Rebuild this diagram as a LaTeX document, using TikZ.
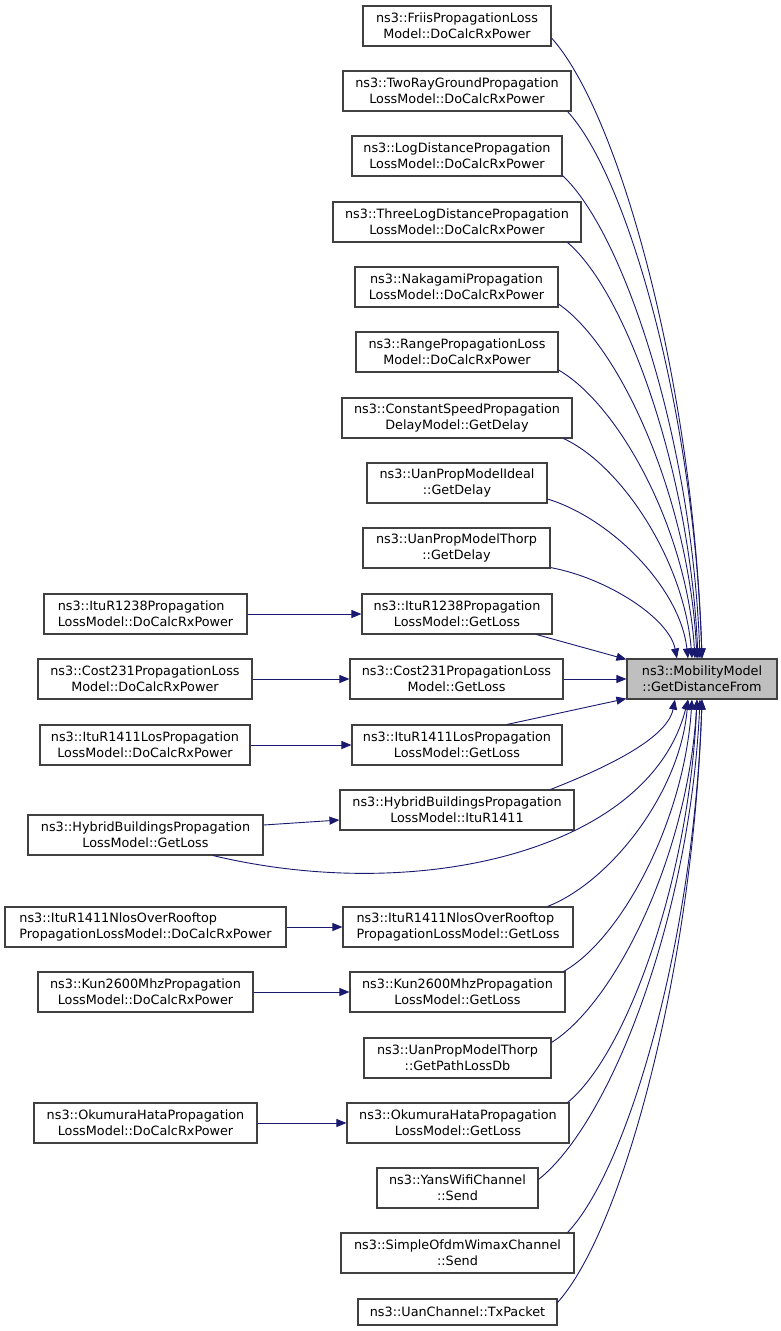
\documentclass[tikz,border=0pt]{standalone}
\usepackage{fontspec}
\setmainfont{DejaVu Sans}
\usetikzlibrary{arrows.meta}
\definecolor{edgecol}{HTML}{191970}
\definecolor{boxborder}{HTML}{404040}
\definecolor{targetfill}{HTML}{BFBFBF}
\begin{document}
\begin{tikzpicture}[x=1pt,y=1pt,
  box/.style={draw=boxborder, line width=1.1pt, fill=white, align=center, inner sep=0pt,
    minimum height=40pt, font=\fontsize{12.8}{16}\selectfont},
  lbox/.style={box, align=left},
  sbox/.style={box, minimum height=26pt},
  tbox/.style={box, fill=targetfill},
  edge/.style={draw=edgecol, line width=0.9pt, -{Triangle[length=10pt,width=8pt]}}]
\useasboundingbox (0,0) rectangle (781,-1331);
% target
\node[tbox, minimum width=150pt] (target) at (702,-679) {ns3::MobilityModel\\::GetDistanceFrom};
% middle column
\node[box, minimum width=188pt] (friis) at (457,-26) {ns3::FriisPropagationLoss\\Model::DoCalcRxPower};
\node[box, minimum width=228pt] (tworay) at (457,-91) {ns3::TwoRayGroundPropagation\\LossModel::DoCalcRxPower};
\node[box, minimum width=210pt] (logd) at (457,-156) {ns3::LogDistancePropagation\\LossModel::DoCalcRxPower};
\node[box, minimum width=248pt] (three) at (457,-222) {ns3::ThreeLogDistancePropagation\\LossModel::DoCalcRxPower};
\node[box, minimum width=203pt] (naka) at (456.5,-287) {ns3::NakagamiPropagation\\LossModel::DoCalcRxPower};
\node[box, minimum width=202pt] (range) at (457,-352) {ns3::RangePropagationLoss\\Model::DoCalcRxPower};
\node[box, minimum width=230pt] (const) at (457,-418) {ns3::ConstantSpeedPropagation\\DelayModel::GetDelay};
\node[box, minimum width=180pt] (uanideal) at (457,-483) {ns3::UanPropModelIdeal\\::GetDelay};
\node[box, minimum width=187pt] (uanthorp) at (456.5,-548) {ns3::UanPropModelThorp\\::GetDelay};
\node[box, minimum width=190pt] (ituGL) at (457,-614) {ns3::ItuR1238Propagation\\LossModel::GetLoss};
\node[box, minimum width=213pt] (costGL) at (456.5,-679) {ns3::Cost231PropagationLoss\\Model::GetLoss};
\node[box, minimum width=210pt] (losGL) at (457,-745) {ns3::ItuR1411LosPropagation\\LossModel::GetLoss};
\node[box, minimum width=234pt] (hybI) at (457,-810) {ns3::HybridBuildingsPropagation\\LossModel::ItuR1411};
\node[lbox, minimum width=230pt] (nlosGL) at (458,-927) {ns3::ItuR1411NlosOverRooftop\\PropagationLossModel::GetLoss};
\node[box, minimum width=215pt] (kunGL) at (457.5,-992) {ns3::Kun2600MhzPropagation\\LossModel::GetLoss};
\node[box, minimum width=187pt] (thorpPL) at (457.5,-1058) {ns3::UanPropModelThorp\\::GetPathLossDb};
\node[box, minimum width=222pt] (okuGL) at (458,-1123) {ns3::OkumuraHataPropagation\\LossModel::GetLoss};
\node[box, minimum width=161pt] (yans) at (457.5,-1188) {ns3::YansWifiChannel\\::Send};
\node[box, minimum width=233pt] (simple) at (457.5,-1253) {ns3::SimpleOfdmWimaxChannel\\::Send};
\node[sbox, minimum width=199pt] (uanch) at (457.5,-1312) {ns3::UanChannel::TxPacket};
% left column
\node[lbox, minimum width=203pt] (ituDC) at (145.5,-614) {ns3::ItuR1238Propagation\\LossModel::DoCalcRxPower};
\node[box, minimum width=214pt] (costDC) at (145,-679) {ns3::Cost231PropagationLoss\\Model::DoCalcRxPower};
\node[box, minimum width=210pt] (losDC) at (145,-745) {ns3::ItuR1411LosPropagation\\LossModel::DoCalcRxPower};
\node[box, minimum width=235pt] (hybGL) at (145.5,-835) {ns3::HybridBuildingsPropagation\\LossModel::GetLoss};
\node[lbox, minimum width=281pt] (nlosDC) at (145.5,-927) {ns3::ItuR1411NlosOverRooftop\\PropagationLossModel::DoCalcRxPower};
\node[box, minimum width=215pt] (kunDC) at (145.5,-992) {ns3::Kun2600MhzPropagation\\LossModel::DoCalcRxPower};
\node[box, minimum width=223pt] (okuDC) at (145.5,-1123) {ns3::OkumuraHataPropagation\\LossModel::DoCalcRxPower};
% edges from upper nodes
\draw[edge] ([yshift=-12pt]friis.east) .. controls (619,-113) and (693,-380) .. ([xshift=0pt]target.north);
\draw[edge] ([xshift=-4pt]tworay.south east) .. controls (628,-177) and (694,-412) .. ([xshift=0pt]target.north);
\draw[edge] ([yshift=1pt]logd.south east) .. controls (624,-233) and (692,-441) .. ([xshift=-2pt]target.north);
\draw[edge] ([xshift=-14pt]three.south east) .. controls (626,-292) and (690,-471) .. ([xshift=-4pt]target.north);
\draw[edge] ([yshift=-17pt]naka.east) .. controls (621,-347) and (689,-499) .. ([xshift=-5pt]target.north);
\draw[edge] ([yshift=-18pt]range.east) .. controls (619,-405) and (687,-529) .. ([xshift=-7pt]target.north);
\draw[edge] ([xshift=-9pt]const.south east) .. controls (621,-465) and (684,-560) .. ([xshift=-10pt]target.north);
\draw[edge] ([yshift=-16pt]uanideal.east) .. controls (610,-518) and (680,-587) .. ([xshift=-14pt]target.north);
\draw[edge] ([yshift=1pt]uanthorp.south east) .. controls (607,-578) and (669,-618) .. ([xshift=-25pt]target.north);
\draw[edge] ([xshift=-16pt]ituGL.south east) -- ([yshift=-1pt]target.north west);
\draw[edge] (costGL.east) -- (target.west);
\draw[edge] ([xshift=50pt]losGL.north) -- ([yshift=1pt]target.south west);
% edges from lower nodes
\draw[edge] ([xshift=-24pt]hybI.north east) .. controls (600,-770) and (667,-740) .. ([xshift=-27pt]target.south);
\draw[edge] ([xshift=67.5pt]hybGL.south) .. controls (420,-905) and (650,-850) .. ([xshift=-14pt]target.south);
\draw[edge] ([xshift=-26pt]nlosGL.north east) .. controls (610,-882) and (680,-793) .. ([xshift=-14pt]target.south);
\draw[edge] ([xshift=-2pt]kunGL.north east) .. controls (621,-939) and (684,-822) .. ([xshift=-10pt]target.south);
\draw[edge] ([yshift=-5pt]thorpPL.north east) .. controls (616,-1002) and (688,-854) .. ([xshift=-5pt]target.south);
\draw[edge] ([xshift=-2pt]okuGL.north east) .. controls (626,-1055) and (689,-881) .. ([xshift=-5pt]target.south);
\draw[edge] ([yshift=-12pt]yans.north east) .. controls (611,-1122) and (690,-916) .. ([xshift=-2pt]target.south);
\draw[edge] ([xshift=-7pt]simple.north east) .. controls (628,-1169) and (694,-940) .. ([xshift=0pt]target.south);
\draw[edge] ([yshift=-4pt]uanch.north east) .. controls (622,-1231) and (693,-971) .. ([xshift=0pt]target.south);
% left to middle
\draw[edge] (ituDC.east) -- (ituGL.west);
\draw[edge] (costDC.east) -- (costGL.west);
\draw[edge] (losDC.east) -- (losGL.west);
\draw[edge] ([yshift=10pt]hybGL.east) -- ([yshift=-10pt]hybI.west);
\draw[edge] (nlosDC.east) -- (nlosGL.west);
\draw[edge] (kunDC.east) -- (kunGL.west);
\draw[edge] (okuDC.east) -- (okuGL.west);
\end{tikzpicture}
\end{document}
